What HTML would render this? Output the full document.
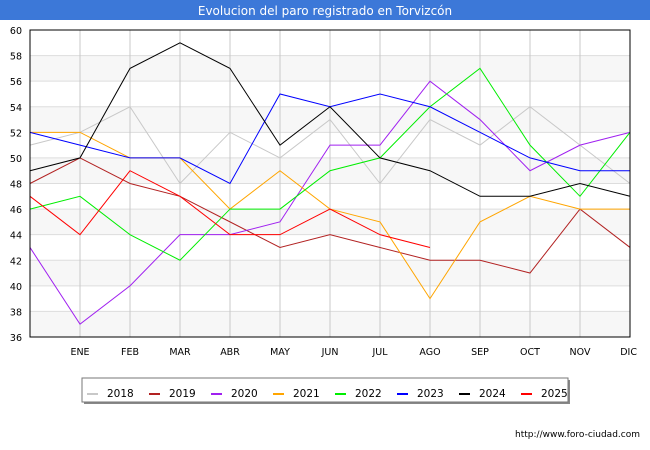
<!DOCTYPE html>
<html><head><meta charset="utf-8"><style>
body{margin:0;background:#fff;font-family:"DejaVu Sans","Liberation Sans",sans-serif}
svg{display:block;font-family:"DejaVu Sans","Liberation Sans",sans-serif}
</style></head><body>
<svg id="c" width="650" height="450" xmlns="http://www.w3.org/2000/svg">
<rect x="0" y="0" width="650" height="20" fill="#3c78d8"/>
<text x="325" y="15" text-anchor="middle" font-size="12" fill="#fff">Evolucion del paro registrado en Torvizcón</text>
<g id="grid"></g>
<g id="series"></g>
<rect x="30" y="30" width="600" height="307" fill="none" stroke="#000" stroke-width="1"/>
<g id="legend"></g>
<text x="640" y="437" text-anchor="end" font-size="9" fill="#000">http://www.foro-ciudad.com</text>
</svg>
<script>
const months=["","ENE","FEB","MAR","ABR","MAY","JUN","JUL","AGO","SEP","OCT","NOV","DIC"];
const yTicks=[36,38,40,42,44,46,48,50,52,54,56,58,60];
const years=["2018","2019","2020","2021","2022","2023","2024","2025"];
const colors=["#c8c8c8","#b22222","#a020f0","#ffa500","#00ee00","#0000ff","#000000","#ff0000"];
const s2018=[51,52,54,48,52,50,53,48,53,51,54,51,48];
const s2019=[48,50,48,47,45,43,44,43,42,42,41,46,43];
const s2020=[43,37,40,44,44,45,51,51,56,53,49,51,52];
const s2021=[52,52,50,50,46,49,46,45,39,45,47,46,46];
const s2022=[46,47,44,42,46,46,49,50,54,57,51,47,52];
const s2023=[52,51,50,50,48,55,54,55,54,52,50,49,49];
const s2024=[49,50,57,59,57,51,54,50,49,47,47,48,47];
const s2025=[47,44,49,47,44,44,46,44,43];
const allSeries=[s2018,s2019,s2020,s2021,s2022,s2023,s2024,s2025];
const NS="http://www.w3.org/2000/svg";
const X=i=>30+i*50, Y=v=>337-(v-36)*(307/24);
const grid=document.getElementById('grid');
function mk(t,a,p){const e=document.createElementNS(NS,t);for(const k in a)e.setAttribute(k,a[k]);p.appendChild(e);return e;}
for(let i=0;i<yTicks.length-1;i++){
  if(i%2===0){const r=mk('rect',{x:30,y:Y(yTicks[i+1]),width:600,height:Y(yTicks[i])-Y(yTicks[i+1]),fill:'#f7f7f7'},grid);
  
  }
}
yTicks.forEach(v=>{
  const l=mk('line',{x1:30,x2:630,y1:Y(v),y2:Y(v),stroke:'#dddddd'},grid);
  
  
  const t=mk('text',{x:22,y:Y(v)+4,'text-anchor':'end','font-size':9.5},grid);t.textContent=v;
  
  
});
months.forEach((m,i)=>{
  if(i===0)return;
  const l=mk('line',{x1:X(i),x2:X(i),y1:30,y2:337,stroke:'#c8c8c8'},grid);
  
  
  const t=mk('text',{x:X(i),y:355,'text-anchor':i===12?'end':'middle','font-size':9.5},grid);t.textContent=m;
  if(i===12)t.setAttribute('x',637);
  
  
});
const sg=document.getElementById('series');
allSeries.forEach((s,k)=>{
  const p=mk('polyline',{points:s.map((v,i)=>X(i)+','+Y(v)).join(' '),fill:'none',stroke:colors[k],'stroke-width':1},sg);
  
  
});
const lg=document.getElementById('legend');
mk('rect',{x:84,y:380,width:486,height:24,fill:'#888'},lg);
const box=mk('rect',{x:82,y:378,width:486,height:24,fill:'#fff',stroke:'#777'},lg);


years.forEach((y,k)=>{
  const x0=87+k*62;
  const sw=mk('line',{x1:x0,x2:x0+11,y1:394,y2:394,stroke:colors[k],'stroke-width':2},lg);
  
  
  const t=mk('text',{x:x0+20,y:397,'font-size':10.5},lg);t.textContent=y;
  
  
});
</script>
</body></html>
